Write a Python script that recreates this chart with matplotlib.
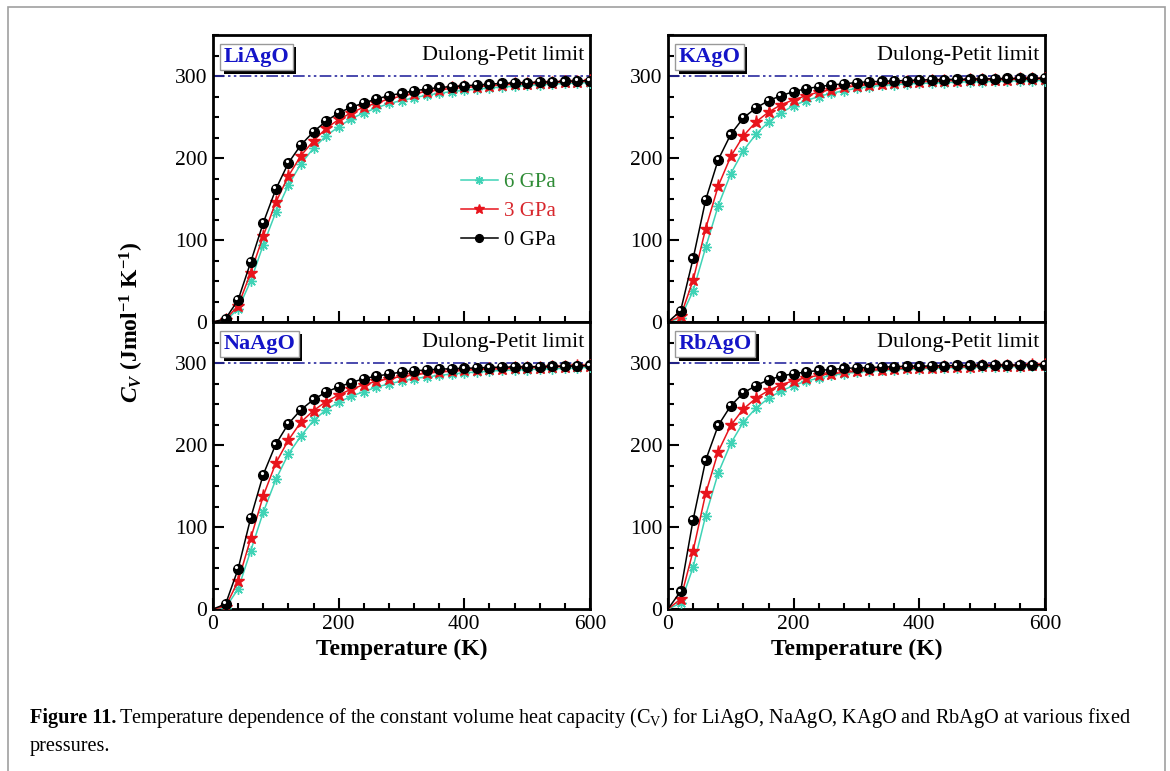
import matplotlib
matplotlib.use("Agg")
import matplotlib.pyplot as plt
import matplotlib.patheffects as pe
import matplotlib.transforms as mtransforms
from matplotlib.patches import Rectangle
from matplotlib.ticker import MultipleLocator

plt.rcParams['font.family'] = ['Liberation Serif', 'DejaVu Serif']
plt.rcParams['mathtext.fontset'] = 'custom'
plt.rcParams['mathtext.rm'] = 'Liberation Serif'
plt.rcParams['mathtext.bf'] = 'Liberation Serif:bold'
plt.rcParams['mathtext.it'] = 'Liberation Serif:italic'
plt.rcParams['mathtext.bfit'] = 'Liberation Serif:italic:bold'

# temperature grid (K)
T = list(range(0, 601, 20))

# heat capacity Cv (J/mol/K) at 0, 3, 6 GPa
liago_0 = [0, 4, 27, 73, 121, 162, 194, 216, 232, 245, 255, 262, 267, 272, 276, 279,
           282, 284, 286, 287, 288, 289, 290, 291, 291.5, 292, 292.5, 293, 293.5, 294, 294.5]
liago_3 = [0, 3, 20, 60, 105, 146, 178, 203, 221, 236, 247, 255, 262, 267, 272, 275.5,
           278.5, 281, 283, 285, 286, 287, 288, 289, 290, 290.5, 291, 292, 292.5, 293, 293.5]
liago_6 = [0, 1.5, 16, 50, 94, 134, 167, 193, 212, 227, 238, 248, 255, 261, 266.5, 270,
           273.5, 276.5, 279, 281, 282.5, 284, 285.5, 286.5, 287.5, 288.5, 289.5, 290, 291, 291.5, 292]

kago_0 = [0, 13.5, 77.5, 149, 198, 229, 249, 261, 270, 276, 281, 284.5, 287, 289, 290.5, 292,
          293, 293.5, 294, 294.5, 295, 295.5, 295.5, 296, 296, 296.5, 296.5, 297, 297, 297, 297.5]
kago_3 = [0, 7, 51, 114, 166, 202, 227, 244, 256, 265, 271, 276, 280.5, 283.5, 286, 288,
          289.5, 290.5, 291.5, 292.5, 293, 293.5, 294, 294.5, 295, 295, 295.5, 295.5, 296, 296, 296.5]
kago_6 = [0, 5, 38, 91, 142, 181, 209, 229, 244, 255, 264, 270, 275, 279, 282, 285,
          287, 288.5, 289.5, 290.5, 291, 291.5, 292, 292.5, 293, 293, 293.5, 294, 294, 294.5, 294.5]

naago_0 = [0, 6, 49, 111, 164, 201, 226, 243, 255.5, 264.5, 271, 276, 281, 284, 286.5, 289,
           290.5, 291.5, 292.5, 293, 293.5, 294, 294.5, 295, 295, 295.5, 295.5, 296, 296, 296.5, 297]
naago_3 = [0, 3, 34, 86, 138, 178, 206, 228, 242, 253, 261, 268, 273.5, 277.5, 281, 283.5,
           285.5, 287.5, 289, 290, 291, 292, 292.5, 293, 293.5, 294, 294.5, 295, 295.5, 296, 296.5]
naago_6 = [0, 1.5, 24.5, 71, 118, 158, 189, 211, 230, 243, 252, 259.5, 265, 270.5, 274.5, 278,
           281, 283, 285, 286.5, 288, 289, 290, 291, 291.5, 292, 292.5, 293, 293.5, 294, 295]

rbago_0 = [0, 21.5, 109, 181.5, 224, 248, 263.5, 272.5, 279.5, 284, 287, 289, 291, 292, 293.5, 294,
           294.5, 295, 295.5, 296, 296, 296.5, 296.5, 297, 297, 297, 297.5, 297.5, 297.5, 298, 298]
rbago_3 = [0, 12, 71, 141, 192, 224, 244, 257, 266.5, 273.5, 278.5, 282, 285, 287, 288.5, 290,
           291, 292, 293, 293.5, 294, 294.5, 295, 295, 295.5, 296, 296, 296.5, 296.5, 297, 297]
rbago_6 = [0, 7, 51, 114, 166, 202, 228, 245, 257, 266, 272.5, 278, 281.5, 285, 287, 289,
           290, 291, 292, 292.5, 293, 293.5, 294, 294.5, 294.5, 295, 295, 295.5, 295.5, 296, 296]

panels = [
    ("LiAgO", liago_0, liago_3, liago_6),
    ("KAgO", kago_0, kago_3, kago_6),
    ("NaAgO", naago_0, naago_3, naago_6),
    ("RbAgO", rbago_0, rbago_3, rbago_6),
]
dulong_petit = 300
pressures = ["6 GPa", "3 GPa", "0 GPa"]

cyan = '#3fd3b6'
red = '#e8141c'
label_colors = ['#2e8b35', '#d8262c', 'black']

fig = plt.figure(figsize=(11.7, 7.71), dpi=100)

W, H = 1170, 771
def px_axes(x0, y0, x1, y1):
    return fig.add_axes([x0 / W, 1 - y1 / H, (x1 - x0) / W, (y1 - y0) / H])

axes = [px_axes(213, 35, 590, 322), px_axes(668, 35, 1045, 322),
        px_axes(213, 322, 590, 609), px_axes(668, 322, 1045, 609)]

for i, (ax, (name, y0, y3, y6)) in enumerate(zip(axes, panels)):
    mk = slice(1, None)
    l6, = ax.plot(T, y6, color=cyan, lw=1.1, marker=(8, 2, 0), ms=7.5, mew=1.0,
                  markevery=mk, zorder=3)
    l3, = ax.plot(T, y3, color=red, lw=1.1, marker='*', ms=9.5, mec=red, mfc=red,
                  markevery=mk, zorder=4)
    l0, = ax.plot(T, y0, color='black', lw=1.1, marker='o', ms=7, mfc='black',
                  mec='black', markevery=mk, zorder=5)
    # small highlight on the black balls
    hl = mtransforms.offset_copy(ax.transData, fig=fig, x=-1.2, y=1.2, units='points')
    ax.plot(T[1:], y0[1:], ls='none', marker='o', ms=2.3, mfc='white', mec='none',
            transform=hl, zorder=6)

    ax.axhline(dulong_petit, color='#2a2aa0', lw=1.2, ls=(0, (7, 2, 1.5, 2, 1.5, 2)), zorder=2)

    ax.set_xlim(0, 600)
    ax.set_ylim(0, 350)
    ax.xaxis.set_major_locator(MultipleLocator(200))
    ax.xaxis.set_minor_locator(MultipleLocator(40))
    ax.yaxis.set_major_locator(MultipleLocator(100))
    ax.yaxis.set_minor_locator(MultipleLocator(25))
    ax.set_yticks([0, 100, 200, 300])
    ax.tick_params(which='both', direction='in', top=False, right=False, width=1.5,
                   labelsize=15.5, pad=4)
    ax.tick_params(which='major', length=8)
    ax.tick_params(which='minor', length=4.5)
    for s in ax.spines.values():
        s.set_linewidth(2)
    if i < 2:
        ax.tick_params(labelbottom=False)
    else:
        ax.set_xlabel("Temperature (K)", fontsize=17, fontweight='bold', labelpad=4)

    tag = ax.text(0.028, 0.958, name, transform=ax.transAxes, ha='left', va='top',
                  fontsize=16, fontweight='bold', color='#1414c8', zorder=10,
                  bbox=dict(boxstyle='square,pad=0.15', fc='white', ec='#999999', lw=1))
    tag.get_bbox_patch().set_path_effects([
        pe.SimplePatchShadow(offset=(2.5, -2.5), shadow_rgbFace='black', alpha=1),
        pe.Normal()])
    ax.text(0.985, 0.93, "Dulong-Petit limit", transform=ax.transAxes, ha='right',
            va='center', fontsize=16)

    if i == 0:
        leg = ax.legend([l6, l3, l0], pressures, loc='center right',
                        bbox_to_anchor=(0.96, 0.385), frameon=False, fontsize=15,
                        handlelength=1.8, handletextpad=0.3, labelspacing=0.45,
                        labelcolor=label_colors, markerscale=0.8)

fig.text(132 / W, 1 - 322 / H,
         r"$\mathbfit{C}_{\mathbfit{V}}$ (Jmol$^{\mathbf{-1}}$ K$^{\mathbf{-1}}$)",
         rotation=90, ha='center', va='center', fontsize=17, fontweight='bold')

# caption
fig.canvas.draw()
r = fig.canvas.get_renderer()
cap_y = 1 - 718 / H
t1 = fig.text(30 / W, cap_y, "Figure 11.", fontsize=14.6, fontweight='bold', va='center')
bb = t1.get_window_extent(renderer=r)
fig.text(bb.x1 / W + 3 / W, cap_y,
         "Temperature dependence of the constant volume heat capacity (C$_{\\mathrm{V}}$) for "
         "LiAgO, NaAgO, KAgO and RbAgO at various fixed", fontsize=14.6, va='center')
fig.text(30 / W, 1 - 746 / H, "pressures.", fontsize=14.6, va='center')

fig.patches.append(Rectangle((8 / W, -0.05), 1157 / W, 1.05 - 7 / H, transform=fig.transFigure,
                             fill=False, ec='#a0a0a0', lw=1.2))

fig.savefig("out.png", dpi=100)
